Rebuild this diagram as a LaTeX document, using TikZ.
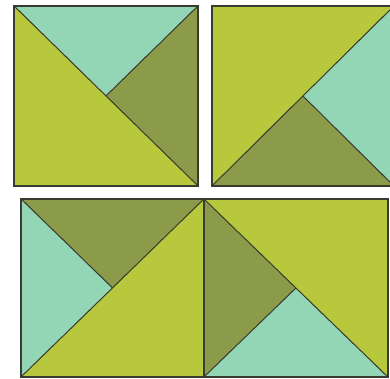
\documentclass[tikz,border=0pt]{standalone}
\usepackage{tikz}
\definecolor{mint}{HTML}{93D6B6}
\definecolor{lime}{HTML}{B7C83C}
\definecolor{olive}{HTML}{8C9B4A}
\definecolor{edge}{HTML}{3A3C30}

\begin{document}
\begin{tikzpicture}[x=1pt,y=-1pt,
  piece/.style={draw=edge, line width=0.9pt, line join=round},
  frame/.style={draw=edge, line width=1.1pt}]
\useasboundingbox (0,0) rectangle (390,379);
\clip (0,0) rectangle (390,379);
% top left square
\filldraw[piece, fill=mint] (14,6) -- (198,6) -- (106,96) -- cycle;
\filldraw[piece, fill=olive] (198,6) -- (198,186) -- (106,96) -- cycle;
\filldraw[piece, fill=lime] (14,6) -- (198,186) -- (14,186) -- cycle;
\draw[frame] (14,6) rectangle (198,186);
% top right square
\filldraw[piece, fill=lime] (212,6) -- (394,6) -- (212,186) -- cycle;
\filldraw[piece, fill=olive] (212,186) -- (303,96) -- (394,186) -- cycle;
\filldraw[piece, fill=mint] (394,6) -- (394,186) -- (303,96) -- cycle;
\draw[frame] (212,6) rectangle (394,186);
% bottom left square
\filldraw[piece, fill=olive] (21,199) -- (204,199) -- (112.5,288) -- cycle;
\filldraw[piece, fill=mint] (21,199) -- (112.5,288) -- (21,377) -- cycle;
\filldraw[piece, fill=lime] (21,377) -- (204,199) -- (204,377) -- cycle;
\draw[frame] (21,199) rectangle (204,377);
% bottom right square
\filldraw[piece, fill=olive] (204,199) -- (296,288) -- (204,377) -- cycle;
\filldraw[piece, fill=mint] (204,377) -- (296,288) -- (388,377) -- cycle;
\filldraw[piece, fill=lime] (204,199) -- (388,199) -- (388,377) -- cycle;
\draw[frame] (204,199) rectangle (388,377);
\end{tikzpicture}
\end{document}
